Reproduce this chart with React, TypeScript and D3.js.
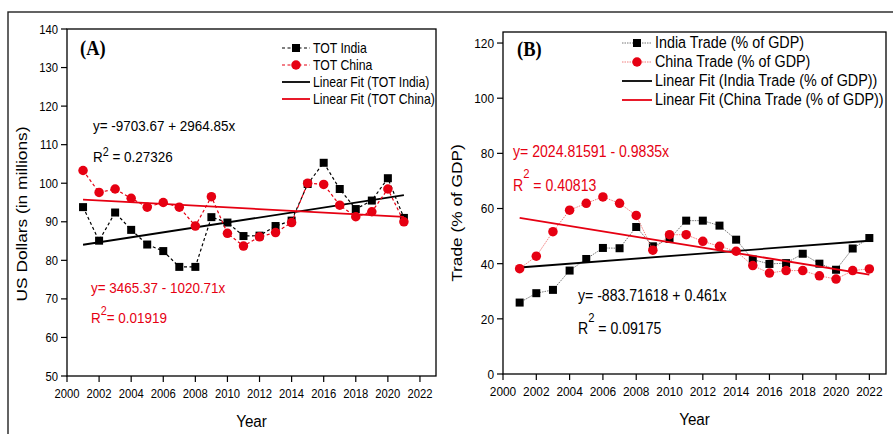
import * as d3 from 'd3';

// ---- data ----
const yearsA = d3.range(2001, 2022);
const totIndia = [93.8, 85.1, 92.4, 87.9, 84.1, 82.4, 78.3, 78.3, 91.2, 89.8, 86.3, 86.4, 88.9, 90.3, 99.8, 105.3, 98.5, 93.3, 95.5, 101.3, 91.0];
const totChina = [103.3, 97.6, 98.5, 96.1, 93.8, 95.0, 93.8, 88.9, 96.5, 87.0, 83.7, 86.1, 87.2, 89.8, 100.0, 99.7, 94.3, 91.3, 92.6, 98.5, 90.0];

const yearsB = d3.range(2001, 2023);
const tradeIndia = [25.9, 29.3, 30.5, 37.5, 41.7, 45.7, 45.6, 53.3, 46.3, 49.0, 55.6, 55.6, 53.8, 48.7, 41.5, 39.9, 40.2, 43.6, 40.0, 37.8, 45.5, 49.3];
const tradeChina = [38.2, 42.7, 51.6, 59.4, 61.9, 64.2, 61.9, 57.5, 44.9, 50.5, 50.5, 48.1, 46.3, 44.5, 39.3, 36.6, 37.5, 37.5, 35.6, 34.4, 37.5, 38.1];

const xTicks = d3.range(2000, 2023, 2);
const yTicksA = d3.range(50, 141, 10);
const yTicksB = d3.range(0, 121, 20);

const legendA = ['TOT India', 'TOT China', 'Linear Fit (TOT India)', 'Linear Fit (TOT China)'];
const legendB = ['India Trade (% of GDP)', 'China Trade (% of GDP)', 'Linear Fit (India Trade (% of GDP))', 'Linear Fit (China Trade (% of GDP))'];

const RED = '#e60012';
const SANS = '"Liberation Sans", Arial, sans-serif';
const SQ = 0.88; // the picture is squeezed horizontally

const fit = (xs: number[], ys: number[]) => {
  const mx = d3.mean(xs)!, my = d3.mean(ys)!;
  const b = d3.sum(xs, (x, i) => (x - mx) * (ys[i] - my)) / d3.sum(xs, (x) => (x - mx) ** 2);
  return (x: number) => my + b * (x - mx);
};

const T = ({x, y, size, anchor = 'start', fill = '#000', family = SANS, weight, rotate, children}: any) => (
  <text transform={`translate(${x},${y}) scale(${SQ},1)${rotate ? ` rotate(${rotate})` : ''}`}
    fontSize={size} fontFamily={family} fontWeight={weight} fill={fill} textAnchor={anchor}>
    {children}
  </text>
);

const Marker = ({kind, x, y, s, fill}: any) =>
  kind === 'square'
    ? <rect x={x - s / 2} y={y - s / 2} width={s} height={s} fill={fill} />
    : <circle cx={x} cy={y} r={s / 2} fill={fill} />;

const Panel = ({x, y, xs, series, yTicks, tickSize, legend, legendPos, legendSize, label, labelPos, title, titlePos, yearPos}: any) => {
  const [x0, x1] = x.range();
  const [y0, y1] = y.range();
  return (
    <g>
      {series.map((s: any, i: number) => {
        const line = d3.line<number>().x((_, j) => x(xs[j])).y((v) => y(v));
        const f = fit(xs, s.values);
        return (
          <g key={i}>
            <path d={line(s.values)!} fill="none" stroke={s.lineColor} strokeWidth={s.lineWidth} strokeDasharray={s.dash} />
            {s.values.map((v: number, j: number) => (
              <Marker key={j} kind={s.kind} x={x(xs[j])} y={y(v)} s={s.size} fill={s.color} />
            ))}
            <line x1={x(xs[0])} y1={y(f(xs[0]))} x2={x(xs[xs.length - 1])} y2={y(f(xs[xs.length - 1]))}
              stroke={s.color} strokeWidth={1.8} />
          </g>
        );
      })}
      <rect x={x0} y={y1} width={x1 - x0} height={y0 - y1} fill="none" stroke="#000" strokeWidth={1.3} />
      {xTicks.map((t) => (
        <g key={t}>
          <line x1={x(t)} x2={x(t)} y1={y0} y2={y0 + 6} stroke="#000" strokeWidth={1.2} />
          <T x={x(t)} y={y0 + 22} size={tickSize} anchor="middle">{t}</T>
        </g>
      ))}
      {yTicks.map((t: number) => (
        <g key={t}>
          <line x1={x0 - 6} x2={x0} y1={y(t)} y2={y(t)} stroke="#000" strokeWidth={1.2} />
          <T x={x0 - 9} y={y(t) + tickSize * 0.36} size={tickSize} anchor="end">{t}</T>
        </g>
      ))}
      {legend.map((name: string, i: number) => {
        const s = series[i % 2];
        const ly = legendPos[1] + i * legendPos[3];
        const lx = legendPos[0];
        const w = legendPos[2];
        return (
          <g key={name}>
            {i < 2 ? (
              <>
                <line x1={lx} x2={lx + w} y1={ly - 5} y2={ly - 5} stroke={s.lineColor} strokeWidth={s.lineWidth} strokeDasharray={s.dash} />
                <Marker kind={s.kind} x={lx + w / 2} y={ly - 5} s={s.size} fill={s.color} />
              </>
            ) : (
              <line x1={lx} x2={lx + w} y1={ly - 5} y2={ly - 5} stroke={s.color} strokeWidth={1.8} />
            )}
            <T x={lx + w + 3} y={ly} size={legendSize}>{name}</T>
          </g>
        );
      })}
      <T x={labelPos[0]} y={labelPos[1]} size={21} family='"Liberation Serif", "Times New Roman", serif' weight="bold">{label}</T>
      <T x={titlePos[0]} y={titlePos[1]} size={17.3} anchor="middle" rotate={-90}>{title}</T>
      <T x={(x0 + x1) / 2} y={yearPos} size={17.3} anchor="middle">Year</T>
    </g>
  );
};

const Eq = ({x, y, size, fill, eq, r2, sup, gap}: any) => (
  <g fill={fill}>
    <T x={x} y={y[0]} size={size} fill={fill}>{eq}</T>
    <T x={x} y={y[1]} size={size} fill={fill}>
      R<tspan dy={-sup} fontSize={size * 0.8}>2</tspan><tspan dy={sup}>{gap}= {r2}</tspan>
    </T>
  </g>
);

export default function App() {
  const xA = d3.scaleLinear().domain([2000, 2023]).range([67, 436]);
  const yA = d3.scaleLinear().domain([50, 140]).range([376, 29]);
  const xB = d3.scaleLinear().domain([2000, 2023]).range([503, 886]);
  const yB = d3.scaleLinear().domain([0, 124]).range([374, 32]);

  const seriesA = [
    {values: totIndia, kind: 'square', color: '#000', lineColor: '#000', lineWidth: 1.2, dash: '3,2.5', size: 8},
    {values: totChina, kind: 'circle', color: RED, lineColor: RED, lineWidth: 1.2, dash: '3,2.5', size: 9.5},
  ];
  const seriesB = [
    {values: tradeIndia, kind: 'square', color: '#000', lineColor: '#666', lineWidth: 0.9, dash: '1.5,1', size: 8},
    {values: tradeChina, kind: 'circle', color: RED, lineColor: '#f07070', lineWidth: 0.9, dash: '1.5,1', size: 9.5},
  ];

  return (
    <svg width={893} height={434} style={{position: 'absolute', left: 0, top: 0, background: '#fff'}}>
      <rect x={8} y={12} width={900} height={440} fill="none" stroke="#222" strokeWidth={1.4} />
      <Panel x={xA} y={yA} xs={yearsA} series={seriesA} yTicks={yTicksA} tickSize={12.8}
        legend={legendA} legendPos={[282, 53, 28, 17]} legendSize={13.9}
        label="(A)" labelPos={[80, 55]} title="US Dollars (in millions)" titlePos={[27, 214]} yearPos={427} />
      <Panel x={xB} y={yB} xs={yearsB} series={seriesB} yTicks={yTicksB} tickSize={13.5}
        legend={legendB} legendPos={[622, 48, 30, 19]} legendSize={16.3}
        label="(B)" labelPos={[517, 56]} title="Trade (% of GDP)" titlePos={[462, 213]} yearPos={425} />
      <Eq x={93} y={[131, 162]} size={15.3} fill="#000" eq="y= -9703.67 + 2964.85x" r2="0.27326" sup={6} gap=" " />
      <Eq x={91} y={[293, 323]} size={15.3} fill={RED} eq="y= 3465.37 - 1020.71x" r2="0.01919" sup={8} gap="" />
      <Eq x={513} y={[157, 191]} size={16} fill={RED} eq="y= 2024.81591 - 0.9835x" r2="0.40813" sup={13} gap=" " />
      <Eq x={578} y={[301, 334]} size={16} fill="#000" eq="y= -883.71618 + 0.461x" r2="0.09175" sup={12} gap=" " />
    </svg>
  );
}
